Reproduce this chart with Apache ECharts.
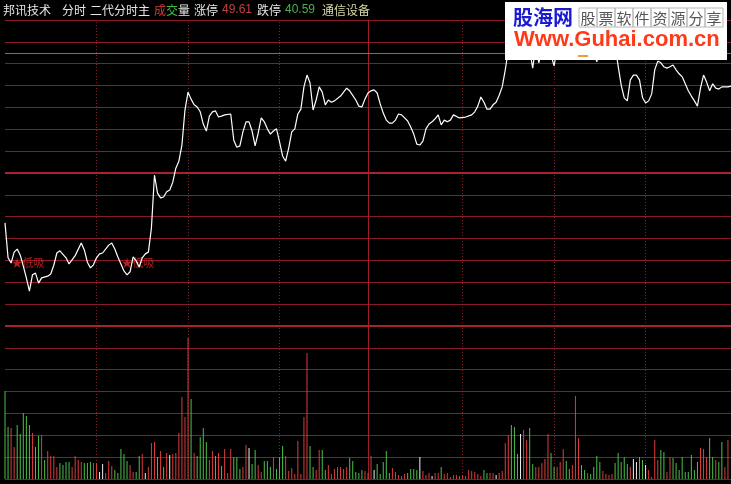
<!DOCTYPE html>
<html><head><meta charset="utf-8">
<script src="https://cdn.jsdelivr.net/npm/echarts@6/dist/echarts.min.js"></script>
<style>html,body{margin:0;padding:0;background:#000;}#c{width:731px;height:484px;}</style>
</head><body><div id="c"></div>
<script>
// ---------- data ----------
const stockName = '邦讯技术';
const industry = '通信设备';
const limitUp = 49.61;
const limitDown = 40.59;
const prevClose = 45.10;
const refLine = 47.84;          // green reference level
const priceMin = 41.60, priceMax = 48.60;
const volMax = 153;             // volume axis top (百手)
const lastVisibleMinute = 238;  // picture is cut at the right edge

const priceMinutes = [
  0,1,2,3,4,5,6,7,8,9,
  10,11,12,14,15,16,17,18,20,21,
  23,25,26,27,28,29,30,31,32,34,
  35,36,37,38,39,40,41,42,43,44,
  45,46,47,48,49,50,51,52,53,54,
  55,56,57,58,59,60,61,62,63,64,
  65,66,67,68,69,70,71,72,74,75,
  76,77,78,79,80,81,82,83,84,85,
  86,87,88,89,90,91,92,93,94,95,
  96,97,98,99,100,101,102,103,104,105,
  106,107,108,110,111,112,113,115,116,117,
  118,119,120,121,122,123,124,125,126,127,
  128,129,130,131,132,133,134,135,136,137,
  138,139,140,141,142,143,144,145,146,147,
  149,151,153,154,155,156,157,158,159,160,
  161,162,163,164,165,166,167,168,170,172,
  173,174,175,176,177,179,180,181,182,184,
  186,188,190,192,194,195,197,199,200,201,
  202,203,204,205,206,207,208,209,210,211,
  212,213,214,215,216,217,218,219,220,221,
  222,223,224,225,226,227,228,229,230,231,
  232,233,234,235,236,237,238
];
const priceValues = [
  43.96,43.16,43.04,43.29,43.36,43.22,42.97,42.70,42.40,42.77,
  42.81,42.58,42.70,42.74,42.79,42.99,43.27,43.32,43.16,43.02,
  43.21,43.50,43.34,43.06,42.93,43.00,43.16,43.25,43.27,43.45,
  43.50,43.36,43.18,43.02,42.86,42.77,42.84,43.18,43.09,42.95,
  43.16,43.25,43.29,43.84,45.05,44.64,44.53,44.55,44.67,44.71,
  44.89,45.21,45.37,45.74,46.54,46.95,46.79,46.66,46.61,46.50,
  46.22,46.06,46.40,46.50,46.52,46.38,46.40,46.43,46.45,45.85,
  45.69,45.72,46.04,46.27,46.27,46.06,45.72,46.01,46.36,46.27,
  46.11,45.99,46.06,46.11,45.81,45.49,45.37,45.67,46.04,46.11,
  46.45,46.56,47.07,47.34,47.16,46.54,46.77,47.07,46.95,46.66,
  46.77,46.72,46.75,46.86,46.95,47.04,46.98,46.77,46.63,46.61,
  46.79,46.93,46.98,47.00,46.93,46.68,46.47,46.31,46.24,46.24,
  46.31,46.45,46.43,46.36,46.29,46.15,45.99,45.76,45.74,45.83,
  46.11,46.22,46.27,46.34,46.43,46.20,46.31,46.27,46.31,46.43,
  46.36,46.38,46.43,46.50,46.63,46.84,46.72,46.56,46.56,46.66,
  46.72,46.88,47.07,47.46,47.91,48.26,48.37,48.19,48.32,47.91,
  47.50,48.03,47.62,47.91,48.14,47.80,47.55,47.96,48.26,48.42,
  48.55,48.49,48.32,48.19,47.64,47.91,48.14,47.80,48.03,47.55,
  47.11,46.82,46.75,47.23,47.34,47.34,47.23,46.82,46.70,46.75,
  46.91,47.46,47.66,47.62,47.53,47.50,47.53,47.57,47.46,47.37,
  47.30,47.14,46.98,46.86,46.75,46.63,47.04,47.34,47.18,46.98,
  47.14,47.04,47.02,47.07,47.07,47.07,47.09
];

const volumes = [
  88,52,51,32,54,45,66,63,54,46,
  32,43,44,19,28,23,23,12,16,14,
  17,17,12,23,19,17,16,16,17,16,
  16,7,15,6,18,13,9,6,30,25,
  18,14,7,7,23,25,6,12,36,37,
  22,28,12,26,24,25,26,46,82,62,
  141,80,26,23,42,51,37,19,28,23,
  26,13,30,6,30,22,22,10,12,34,
  31,15,29,14,7,18,18,12,22,10,
  22,33,23,8,11,5,38,5,62,126,
  33,12,9,29,29,9,14,5,10,12,
  12,10,12,21,18,7,6,9,8,6,
  23,9,15,5,17,28,6,11,7,4,
  3,5,6,10,10,9,22,8,4,6,
  3,6,6,12,5,6,2,4,4,3,
  4,3,9,8,7,5,3,9,6,6,
  6,4,6,8,36,44,54,52,25,45,
  49,39,51,15,12,12,16,20,45,26,
  12,12,17,30,18,10,14,83,41,14,
  9,6,5,12,23,17,8,5,4,5,
  16,26,17,22,15,12,20,17,22,19,
  14,9,2,39,19,29,27,7,22,21,
  16,9,22,7,7,24,9,17,31,30,
  22,41,22,19,17,37,12,39
];
// 1 = up (red), -1 = down (green), 0 = flat (white)
const volDirs = [
  -1,-1,1,1,-1,-1,-1,-1,-1,1,
  -1,-1,1,-1,1,1,1,1,-1,-1,
  -1,-1,1,1,1,1,-1,-1,-1,1,
  1,0,0,1,1,1,-1,-1,-1,-1,
  -1,1,1,-1,-1,1,0,1,1,1,
  -1,1,-1,1,0,1,1,1,1,1,
  1,-1,1,-1,-1,-1,-1,1,1,-1,
  1,-1,1,1,1,-1,-1,-1,1,1,
  0,-1,-1,1,1,-1,-1,-1,1,-1,
  -1,-1,1,1,1,1,1,1,1,1,
  -1,-1,1,1,-1,-1,1,1,1,1,
  1,1,1,-1,-1,-1,-1,-1,1,1,
  1,0,-1,-1,-1,-1,-1,1,1,1,
  1,1,-1,-1,-1,-1,0,1,1,1,
  0,1,1,-1,1,1,1,1,1,1,
  1,1,1,1,1,1,1,-1,-1,1,
  1,0,1,1,1,1,-1,-1,-1,0,
  1,1,-1,-1,1,1,1,1,1,-1,
  -1,1,1,1,-1,-1,1,1,1,-1,
  -1,1,-1,-1,-1,-1,1,1,1,1,
  -1,-1,-1,-1,-1,1,0,0,-1,-1,
  0,1,1,1,1,-1,-1,1,1,-1,
  -1,-1,-1,-1,-1,-1,-1,-1,1,1,
  1,-1,-1,1,-1,-1,1,1
];

const signalMinutes = [2, 38];
const signalPrices = [43.04, 43.04];
const signalText = '★低吸';

const sessionLines = [30, 60, 90, 150, 180, 210];
const noonLine = 119;

// ---------- chart ----------
const chart = echarts.init(document.getElementById('c'), null, {renderer: 'canvas', width: 731, height: 484});

const GRID_RED = '#8a1a2c';
const THICK_RED = '#a8242a';
const CJK = '"Noto Sans CJK SC"';

function dirColor(d) { return d > 0 ? '#dc3c3c' : (d < 0 ? '#4cc04c' : '#f0f0f0'); }
function vLines() {
  return sessionLines.map(m => ({xAxis: m, lineStyle: {color: '#801e24', type: [1, 2], width: 1}}))
    .concat([{xAxis: noonLine, lineStyle: {color: '#a01e28', type: 'solid', width: 1}}]);
}

const header = [
  [stockName, 3, '#e6e6e6', CJK],
  ['分时', 62, '#e6e6e6', CJK],
  ['二代分时主', 90, '#e6e6e6', CJK],
  ['成', 154, '#d23c3c', CJK],
  ['交', 166, '#3cbe3c', CJK],
  ['量', 178, '#e6e6e6', CJK],
  ['涨停', 194, '#e6e6e6', CJK],
  [limitUp.toFixed(2), 222, '#c04040', '"Liberation Sans"'],
  ['跌停', 257, '#e6e6e6', CJK],
  [limitDown.toFixed(2), 285, '#4cb04c', '"Liberation Sans"'],
  [industry, 322, '#d8d8a8', CJK]
];
const graphics = header.map(h => ({
  type: 'text', z: 100,
  style: {x: h[1], y: 10, text: h[0], fill: h[2], font: '12px ' + h[3], align: 'left', verticalAlign: 'middle'}
}));

// watermark
const wmChars = '股票软件资源分享'.split('');
graphics.push({type: 'rect', z: 100, shape: {x: 505, y: 2, width: 222, height: 58}, style: {fill: '#ffffff'}});
graphics.push({type: 'text', z: 101, style: {x: 513, y: 17, text: '股海网', fill: '#1a1ad2', font: 'bold 20px ' + CJK, align: 'left', verticalAlign: 'middle'}});
wmChars.forEach((ch, k) => {
  graphics.push({type: 'rect', z: 101, shape: {x: 579 + 18 * k, y: 8, width: 18, height: 19}, style: {fill: 'none', stroke: '#b8b8b8', lineWidth: 1}});
  graphics.push({type: 'text', z: 102, style: {x: 588 + 18 * k, y: 18, text: ch, fill: '#555555', font: '15px ' + CJK, align: 'center', verticalAlign: 'middle'}});
});
graphics.push({type: 'text', z: 101, style: {x: 514, y: 40, text: 'Www.Guhai.com.cn', fill: '#ff3a1a', font: 'bold 22px "Liberation Sans"', align: 'left', verticalAlign: 'middle'}});
graphics.push({type: 'rect', z: 101, shape: {x: 578, y: 55, width: 10, height: 2}, style: {fill: '#e8a030'}});

const hiddenAxis = {show: true, axisLabel: {show: false}, axisTick: {show: false}};

const option = {
  backgroundColor: '#000000',
  animation: false,
  grid: [
    {left: 5, top: 20, right: 0, height: 306},
    {left: 5, top: 326, right: 0, height: 153}
  ],
  xAxis: [
    {type: 'value', gridIndex: 0, min: 0, max: lastVisibleMinute, show: false},
    {type: 'value', gridIndex: 1, min: 0, max: lastVisibleMinute, show: false}
  ],
  yAxis: [
    {type: 'value', gridIndex: 0, min: priceMin, max: priceMax, show: false},
    Object.assign({type: 'value', gridIndex: 0, min: 0, max: 14, interval: 1,
      splitLine: {show: true, lineStyle: {color: GRID_RED, width: 1}}}, hiddenAxis,
      {axisLine: {show: true, lineStyle: {color: THICK_RED}}}),
    {type: 'value', gridIndex: 1, min: 0, max: volMax, show: false},
    Object.assign({type: 'value', gridIndex: 1, min: 0, max: 7, interval: 1,
      splitLine: {show: true, lineStyle: {color: GRID_RED, width: 1}}}, hiddenAxis,
      {axisLine: {show: true, lineStyle: {color: THICK_RED}}})
  ],
  graphic: graphics,
  series: [
    { // price panel guide lines
      type: 'line', xAxisIndex: 0, yAxisIndex: 0, data: [[0, prevClose]], symbol: 'none',
      lineStyle: {opacity: 0}, z: 2, silent: true,
      markLine: {silent: true, symbol: ['none', 'none'], label: {show: false}, animation: false,
        data: vLines().concat([
          {yAxis: prevClose, lineStyle: {color: THICK_RED, width: 2, type: 'solid'}},
          {yAxis: refLine, lineStyle: {color: '#3c963c', width: 1, type: 'solid'}}
        ])}
    },
    { // volume panel guide lines
      type: 'line', xAxisIndex: 1, yAxisIndex: 2, data: [[0, 0]], symbol: 'none',
      lineStyle: {opacity: 0}, z: 2, silent: true,
      markLine: {silent: true, symbol: ['none', 'none'], label: {show: false}, animation: false,
        data: vLines().concat([
          {yAxis: volMax, lineStyle: {color: THICK_RED, width: 2, type: 'solid'}}
        ])}
    },
    { // signals
      type: 'scatter', xAxisIndex: 0, yAxisIndex: 0, z: 4, symbolSize: 1,
      itemStyle: {color: 'rgba(0,0,0,0)'},
      data: signalMinutes.map((m, k) => [m, signalPrices[k]]),
      label: {show: true, position: 'right', distance: 0, formatter: signalText,
        color: '#e02828', fontSize: 11, fontFamily: 'Noto Sans CJK SC'}
    },
    { // price line
      type: 'line', xAxisIndex: 0, yAxisIndex: 0, z: 5, symbol: 'none', showSymbol: false,
      data: priceMinutes.map((m, k) => [m, priceValues[k]]),
      lineStyle: {color: '#ffffff', width: 1.2}
    },
    { // volume bars
      type: 'bar', xAxisIndex: 1, yAxisIndex: 2, z: 5, barWidth: 1,
      data: volumes.map((v, i) => ({value: [i, v], itemStyle: {color: dirColor(volDirs[i])}}))
    }
  ]
};
chart.setOption(option);
</script>
</body></html>
